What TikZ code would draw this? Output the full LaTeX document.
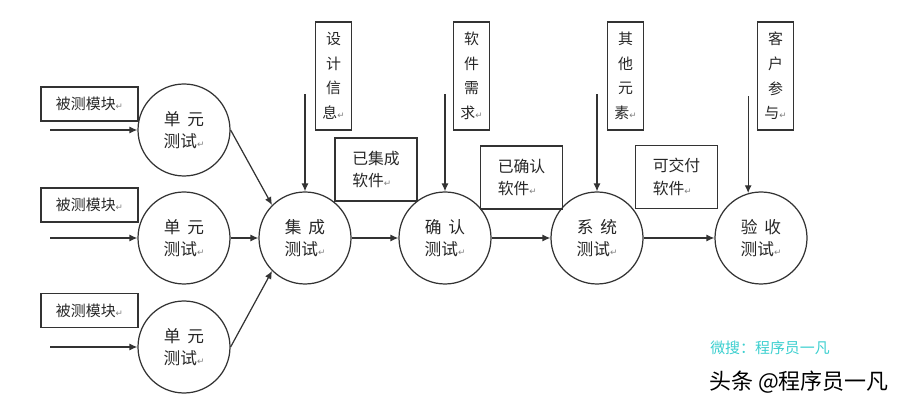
\documentclass[tikz,border=0pt]{standalone}
\usepackage{fontspec}
\setmainfont{Noto Sans CJK SC}
\newfontfamily\dejavu{DejaVu Sans}
\usetikzlibrary{arrows.meta,calc}
\usepackage{xcolor}
\newcommand{\myunit}{0.02cm}
\colorlet{linegray}{black!80}
\colorlet{txtgray}{black!85}
\definecolor{wmcyan}{HTML}{3CCFCF}
\newcommand{\retmk}{{\dejavu\fontsize{5}{5}\selectfont\textcolor{gray}{↵}}}
\tikzset{
    tststy/.style={draw=linegray,circle,minimum size=92*\myunit,inner sep=0pt,align=center,text=txtgray,font=\fontsize{9.5}{12.5}\selectfont},
    modsty/.style={draw=linegray,rectangle,minimum width=97*\myunit,minimum height=34*\myunit,inner sep=0pt,text=txtgray,font=\fontsize{8.5}{10}\selectfont},
    vinsty/.style={draw=linegray,rectangle,minimum width=36*\myunit,minimum height=108*\myunit,inner sep=0pt,align=center,text=txtgray,font=\fontsize{8.5}{14}\selectfont},
    swsty/.style={draw=linegray,rectangle,minimum width=82*\myunit,minimum height=63*\myunit,inner sep=0pt,align=left,text=txtgray,font=\fontsize{9}{13}\selectfont},
    arrsty/.style={->,draw=linegray,line width=0.7pt},
}

\begin{document}
\begin{tikzpicture}[x=\myunit,y=-\myunit,>={Latex[length=4.5pt,width=4pt]},line width=0.7pt]
\useasboundingbox (0,0) rectangle (908,404);

% unit tests with their modules
\node[tststy] (u1) at (184,130) {单\hspace{0.4em}元\\测试\retmk};
\node[tststy] (u2) at (184,238) {单\hspace{0.4em}元\\测试\retmk};
\node[tststy] (u3) at (184,347) {单\hspace{0.4em}元\\测试\retmk};
\node[modsty] (m1) at (89.5,104) {被测模块\retmk};
\node[modsty] (m2) at (89.5,205) {被测模块\retmk};
\node[modsty] (m3) at (89.5,310.5) {被测模块\retmk};

% test chain
\node[tststy] (it) at (305,238) {集\hspace{0.4em}成\\测试\retmk};
\node[tststy] (qr) at (445,238) {确\hspace{0.4em}认\\测试\retmk};
\node[tststy] (xt) at (597,238) {系\hspace{0.4em}统\\测试\retmk};
\node[tststy] (ys) at (761,238) {验\hspace{0.4em}收\\测试\retmk};

% extra inputs
\node[vinsty] (v1) at (333.5,76) {设\\计\\信\\息\retmk};
\node[vinsty] (v2) at (471.5,76) {软\\件\\需\\求\retmk};
\node[vinsty] (v3) at (625.5,76) {其\\他\\元\\素\retmk};
\node[vinsty] (v4) at (775.5,76) {客\\户\\参\\与\retmk};

% products between stages
\node[swsty] (s1) at (376,169.5) {已集成\\软件\retmk};
\node[swsty] (s2) at (521.5,177.5) {已确认\\软件\retmk};
\node[swsty] (s3) at (676.5,177) {可交付\\软件\retmk};

% free ends
\coordinate (i1) at ($(u1.west)+(-87,0)$);
\coordinate (i2) at ($(u2.west)+(-87,0)$);
\coordinate (i3) at ($(u3.west)+(-87,0)$);
\coordinate (a1) at ($(it.north)+(0,-97)$);
\coordinate (a2) at ($(qr.north)+(0,-97)$);
\coordinate (a3) at ($(xt.north)+(0,-97)$);
\coordinate (a4) at ($(ys.106)+(0,-97)$);

\draw[arrsty] (i1) -- (u1.west);
\draw[arrsty] (i2) -- (u2.west);
\draw[arrsty] (i3) -- (u3.west);
\draw[arrsty] (u1.east) -- (it.135);
\draw[arrsty] (u2) -- (it);
\draw[arrsty] (u3.east) -- (it.225);
\draw[arrsty] (it) -- (qr);
\draw[arrsty] (qr) -- (xt);
\draw[arrsty] (xt) -- (ys);
\draw[arrsty] (a1) -- (it.north);
\draw[arrsty] (a2) -- (qr.north);
\draw[arrsty] (a3) -- (xt.north);
\draw[arrsty] (a4) -- (ys.106);

% watermark
\node[text=wmcyan,font=\fontsize{8.5}{10}\selectfont] (w1) at (770,348) {微搜：程序员一凡};
\node[text=black,font=\fontsize{12.5}{14}\selectfont] (w2) at (799,382) {头条 @程序员一凡};
\end{tikzpicture}
\end{document}
